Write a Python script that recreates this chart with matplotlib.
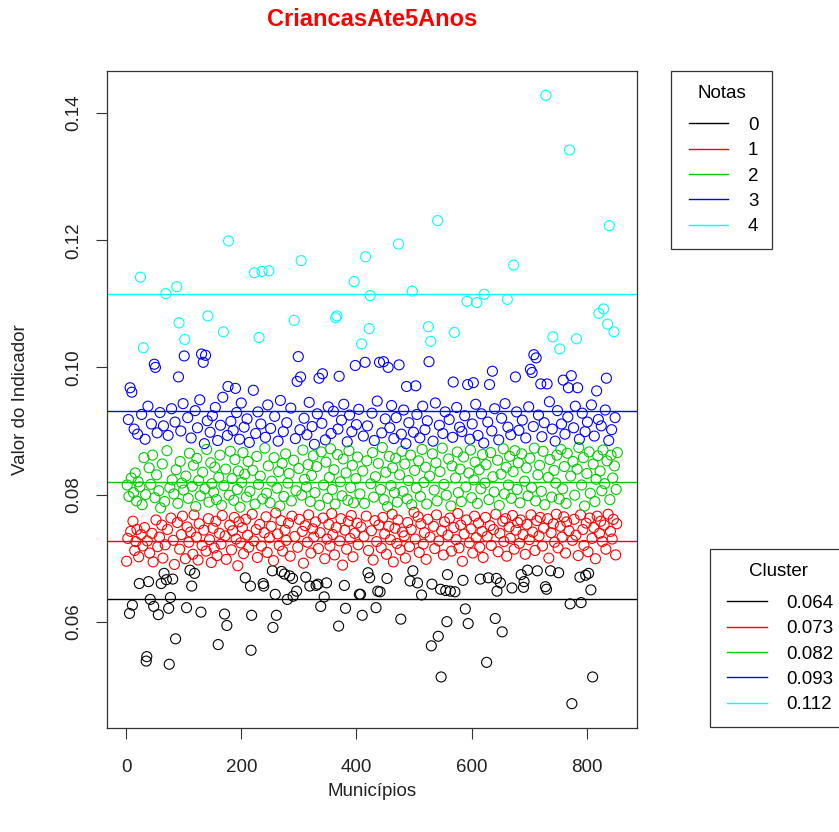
import numpy as np
import matplotlib
matplotlib.use("Agg")
import matplotlib.pyplot as plt
from matplotlib.lines import Line2D
from matplotlib.legend_handler import HandlerLine2D

plt.rcParams["font.family"] = ["Liberation Sans", "DejaVu Sans"]

# =====================================
# Dados (valor do indicador por municipio, na ordem do indice)
# =====================================

titulo = "CriancasAte5Anos"

valor = [
    0.0695, 0.0815, 0.0731, 0.0918, 0.0797, 0.0613, 0.0968, 0.0742, 0.0826, 0.0961,  # 1
    0.0626, 0.0758, 0.0803, 0.0903, 0.0712, 0.0834, 0.0726, 0.0790, 0.0745, 0.0895,  # 11
    0.0820, 0.0702, 0.0660, 0.0812, 0.1142, 0.0737, 0.0926, 0.0784, 0.0719, 0.1031,  # 21
    0.0858, 0.0748, 0.0887, 0.0800, 0.0538, 0.0545, 0.0727, 0.0939, 0.0663, 0.0842,  # 31
    0.0708, 0.0635, 0.0816, 0.0911, 0.0739, 0.0862, 0.0694, 0.0624, 0.1005, 0.0795,  # 41
    0.1000, 0.0760, 0.0831, 0.0897, 0.0718, 0.0611, 0.0806, 0.0733, 0.0929, 0.0779,  # 51
    0.0660, 0.0752, 0.0848, 0.0700, 0.0908, 0.0676, 0.0789, 0.0721, 0.1116, 0.0666,  # 61
    0.0869, 0.0745, 0.0893, 0.0621, 0.0533, 0.0811, 0.0638, 0.0763, 0.0935, 0.0823,  # 71
    0.0667, 0.0728, 0.0801, 0.0690, 0.0914, 0.0573, 0.0839, 0.1127, 0.0756, 0.0786,  # 81
    0.0985, 0.1070, 0.0714, 0.0852, 0.0900, 0.0737, 0.0818, 0.0766, 0.0943, 0.0807,  # 91
    0.1018, 0.1044, 0.0699, 0.0829, 0.0622, 0.0749, 0.0921, 0.0794, 0.0725, 0.0865,  # 101
    0.0681, 0.0741, 0.0889, 0.0656, 0.0813, 0.0706, 0.0846, 0.0768, 0.0676, 0.0932,  # 111
    0.0781, 0.0733, 0.0857, 0.0905, 0.0697, 0.0822, 0.0754, 0.0949, 0.0798, 0.0615,  # 121
    0.1021, 0.0720, 0.0835, 0.1008, 0.0744, 0.0880, 0.0809, 0.1019, 0.0711, 0.0871,  # 131
    0.0916, 0.1081, 0.0762, 0.0788, 0.0729, 0.0898, 0.0850, 0.0693, 0.0817, 0.0924,  # 141
    0.0747, 0.0804, 0.0716, 0.0843, 0.0937, 0.0758, 0.0792, 0.0704, 0.0885, 0.0564,  # 151
    0.0827, 0.0739, 0.0862, 0.0909, 0.0722, 0.0783, 0.0767, 0.0953, 0.1056, 0.0814,  # 161
    0.0612, 0.0735, 0.0840, 0.0698, 0.0594, 0.0893, 0.0970, 0.1199, 0.0799, 0.0752,  # 171
    0.0868, 0.0915, 0.0713, 0.0825, 0.0743, 0.0901, 0.0791, 0.0764, 0.0855, 0.0967,  # 181
    0.0730, 0.0929, 0.0808, 0.0688, 0.0837, 0.0757, 0.0887, 0.0780, 0.0724, 0.0944,  # 191
    0.0819, 0.0748, 0.0866, 0.0707, 0.0906, 0.0832, 0.0669, 0.0761, 0.0796, 0.0919,  # 201
    0.0736, 0.0852, 0.0717, 0.0882, 0.0805, 0.0656, 0.0555, 0.0610, 0.0769, 0.0838,  # 211
    0.0964, 0.0727, 0.1149, 0.0785, 0.0896, 0.0745, 0.0860, 0.0701, 0.0930, 0.0816,  # 221
    0.1047, 0.0753, 0.0829, 0.0911, 0.0719, 0.1151, 0.0793, 0.0660, 0.0656, 0.0740,  # 231
    0.0873, 0.0890, 0.0765, 0.0802, 0.0709, 0.0941, 0.0845, 0.1152, 0.0732, 0.0787,  # 241
    0.0904, 0.0750, 0.0821, 0.0680, 0.0591, 0.0696, 0.0858, 0.0923, 0.0643, 0.0771,  # 251
    0.0610, 0.0810, 0.0738, 0.0884, 0.0836, 0.0720, 0.0782, 0.0948, 0.0759, 0.0679,  # 261
    0.0849, 0.0711, 0.0899, 0.0797, 0.0675, 0.0744, 0.0864, 0.0728, 0.0913, 0.0635,  # 271
    0.0818, 0.0755, 0.0833, 0.0672, 0.0703, 0.0936, 0.0790, 0.0766, 0.0668, 0.0640,  # 281
    0.0854, 0.1074, 0.0734, 0.0888, 0.0806, 0.0648, 0.0978, 0.0717, 0.1017, 0.0841,  # 291
    0.0761, 0.0902, 0.0985, 0.1168, 0.0799, 0.0742, 0.0870, 0.0692, 0.0920, 0.0824,  # 301
    0.0751, 0.0670, 0.0812, 0.0894, 0.0725, 0.0847, 0.0768, 0.0945, 0.0656, 0.0789,  # 311
    0.0708, 0.0830, 0.0907, 0.0746, 0.0861, 0.0733, 0.0879, 0.0803, 0.0757, 0.0657,  # 321
    0.0844, 0.0927, 0.0659, 0.0715, 0.0983, 0.0783, 0.0740, 0.0624, 0.0867, 0.0912,  # 331
    0.0990, 0.0763, 0.0815, 0.0639, 0.0699, 0.0886, 0.0851, 0.0661, 0.0730, 0.0794,  # 341
    0.0938, 0.0753, 0.0827, 0.0719, 0.0872, 0.0896, 0.0770, 0.0808, 0.0737, 0.0931,  # 351
    0.0839, 0.0705, 0.0785, 0.1078, 0.0748, 0.1081, 0.0863, 0.0903, 0.0593, 0.0986,  # 361
    0.0727, 0.0820, 0.0762, 0.0917, 0.0798, 0.0689, 0.0856, 0.0942, 0.0657, 0.0744,  # 371
    0.0621, 0.0834, 0.0714, 0.0883, 0.0791, 0.0758, 0.0869, 0.0925, 0.0731, 0.0811,  # 381
    0.0767, 0.0899, 0.0846, 0.0702, 0.0787, 0.1135, 0.0739, 0.1003, 0.0825, 0.0910,  # 391
    0.0755, 0.0859, 0.0721, 0.0934, 0.0643, 0.0801, 0.0643, 0.0749, 0.1037, 0.0610,  # 401
    0.0837, 0.0892, 0.0734, 0.0786, 0.1008, 0.1174, 0.0766, 0.0853, 0.0908, 0.0677,  # 411
    0.0712, 0.1061, 0.0669, 0.1113, 0.0817, 0.0743, 0.0928, 0.0866, 0.0697, 0.0796,  # 421
    0.0885, 0.0759, 0.0828, 0.0622, 0.0726, 0.0947, 0.0648, 0.0849, 0.0752, 0.1008,  # 431
    0.0647, 0.0808, 0.0716, 0.0897, 0.0874, 0.0764, 0.1009, 0.0792, 0.0738, 0.0919,  # 441
    0.0835, 0.0706, 0.0668, 0.0781, 0.1000, 0.0750, 0.0860, 0.0905, 0.0729, 0.0814,  # 451
    0.0940, 0.0769, 0.0842, 0.0694, 0.0888, 0.0803, 0.0747, 0.0857, 0.0921, 0.0723,  # 461
    0.0788, 0.0760, 0.1194, 0.1004, 0.0831, 0.0713, 0.0604, 0.0895, 0.0868, 0.0741,  # 471
    0.0805, 0.0933, 0.0735, 0.0848, 0.0700, 0.0880, 0.0970, 0.0793, 0.0756, 0.0822,  # 481
    0.0913, 0.0718, 0.0664, 0.0862, 0.0745, 0.0784, 0.1120, 0.0680, 0.0898, 0.0772,  # 491
    0.0838, 0.0730, 0.0971, 0.0810, 0.0926, 0.0661, 0.0765, 0.0853, 0.0709, 0.0889,  # 501
    0.0797, 0.0754, 0.0642, 0.0871, 0.0939, 0.0722, 0.0819, 0.0740, 0.0902, 0.0843,  # 511
    0.0698, 0.0785, 0.0916, 0.0761, 0.1064, 0.1009, 0.0829, 0.0733, 0.1041, 0.0562,  # 521
    0.0659, 0.0864, 0.0884, 0.0750, 0.0807, 0.0715, 0.0944, 0.0850, 0.0768, 0.0790,  # 531
    0.1231, 0.0577, 0.0727, 0.0909, 0.0836, 0.0651, 0.0513, 0.0743, 0.0873, 0.0896,  # 541
    0.0705, 0.0816, 0.0757, 0.0930, 0.0649, 0.0799, 0.0600, 0.0674, 0.0736, 0.0856,  # 551
    0.0918, 0.0763, 0.0648, 0.0782, 0.0711, 0.0845, 0.0890, 0.0977, 0.0748, 0.1055,  # 561
    0.0647, 0.0826, 0.0729, 0.0937, 0.0867, 0.0770, 0.0803, 0.0716, 0.0906, 0.0840,  # 571
    0.0752, 0.0789, 0.0899, 0.0695, 0.0665, 0.0859, 0.0738, 0.0924, 0.0620, 0.0812,  # 581
    0.0760, 0.1104, 0.0973, 0.0597, 0.0834, 0.0724, 0.0887, 0.0870, 0.0746, 0.0795,  # 591
    0.0911, 0.0708, 0.0976, 0.0823, 0.0766, 0.0851, 0.0942, 0.0732, 0.1102, 0.0786,  # 601
    0.0893, 0.0755, 0.0839, 0.0717, 0.0667, 0.0809, 0.0927, 0.0742, 0.0863, 0.0701,  # 611
    0.0881, 0.1115, 0.0818, 0.0764, 0.0847, 0.0536, 0.0734, 0.0914, 0.0669, 0.0792,  # 621
    0.0973, 0.0751, 0.0866, 0.0720, 0.0900, 0.0994, 0.0828, 0.0745, 0.0804, 0.0935,  # 631
    0.0605, 0.0769, 0.0668, 0.0648, 0.0854, 0.0710, 0.0886, 0.0783, 0.0739, 0.0661,  # 641
    0.0832, 0.0920, 0.0584, 0.0758, 0.0872, 0.0726, 0.0801, 0.0943, 0.0762, 0.0843,  # 651
    0.0703, 0.1107, 0.0906, 0.0815, 0.0749, 0.0860, 0.0731, 0.0894, 0.0794, 0.0653,  # 661
    0.0767, 0.0836, 0.1161, 0.0714, 0.0869, 0.0985, 0.0744, 0.0930, 0.0808, 0.0756,  # 671
    0.0850, 0.0901, 0.0723, 0.0787, 0.0760, 0.0674, 0.0864, 0.0917, 0.0737, 0.0654,  # 681
    0.0663, 0.0821, 0.0706, 0.0889, 0.0842, 0.0753, 0.0681, 0.0798, 0.0938, 0.0729,  # 691
    0.0857, 0.0997, 0.0768, 0.0811, 0.0992, 0.0741, 0.0907, 0.1020, 0.0873, 0.0712,  # 701
    0.0790, 0.1015, 0.0759, 0.0680, 0.0831, 0.0925, 0.0735, 0.0846, 0.0764, 0.0974,  # 711
    0.0805, 0.0891, 0.0719, 0.0868, 0.0747, 0.0913, 0.0784, 0.0655, 0.1428, 0.0651,  # 721
    0.0974, 0.0762, 0.0827, 0.0700, 0.0946, 0.0855, 0.0680, 0.0740, 0.0796, 0.0903,  # 731
    0.1048, 0.0754, 0.0838, 0.0725, 0.0884, 0.0818, 0.0769, 0.0862, 0.0932, 0.0716,  # 741
    0.0677, 0.0793, 0.1029, 0.0750, 0.0871, 0.0911, 0.0733, 0.0809, 0.0980, 0.0765,  # 751
    0.0844, 0.0895, 0.0708, 0.0786, 0.0757, 0.0865, 0.0922, 0.0968, 0.0743, 0.1342,  # 761
    0.0628, 0.0829, 0.0987, 0.0471, 0.0728, 0.0852, 0.0905, 0.0761, 0.0799, 0.0939,  # 771
    0.0736, 0.1045, 0.0840, 0.0968, 0.0704, 0.0874, 0.0887, 0.0670, 0.0768, 0.0630,  # 781
    0.0815, 0.0928, 0.0745, 0.0858, 0.0720, 0.0782, 0.0899, 0.0673, 0.0755, 0.0833,  # 791
    0.0914, 0.0710, 0.0676, 0.0867, 0.0763, 0.0802, 0.0650, 0.0941, 0.0731, 0.0513,  # 801
    0.0848, 0.0748, 0.0892, 0.0789, 0.0699, 0.0824, 0.0963, 0.0766, 0.0861, 0.0918,  # 811
    0.1085, 0.0739, 0.0837, 0.0758, 0.0908, 0.0806, 0.0726, 0.0870, 0.1092, 0.0752,  # 821
    0.0817, 0.0933, 0.0714, 0.0983, 0.0853, 0.1068, 0.0769, 0.0885, 0.1223, 0.0792,  # 831
    0.0742, 0.0862, 0.0902, 0.0730, 0.0826, 0.0761, 0.1056, 0.0845, 0.0921, 0.0705,  # 841
    0.0808, 0.0754, 0.0866,                                                          # 851
]

# centros dos clusters (linhas horizontais) e notas
centros = [0.0636, 0.0727, 0.0820, 0.0932, 0.1116]
notas = ["0", "1", "2", "3", "4"]
cores = ["black", "#FF0000", "#00CD00", "#0000FF", "#00FFFF"]

valor = np.array(valor)
municipios = np.arange(1, len(valor) + 1)

# cada municipio recebe o cluster de centro mais proximo
cluster = np.argmin(np.abs(valor[:, None] - np.array(centros)[None, :]), axis=1)
cor_ponto = [cores[c] for c in cluster]

# =====================================
# Grafico
# =====================================

fig = plt.figure(figsize=(8.39, 8.32), dpi=100)
ax = fig.add_axes([107 / 839, 1 - 728 / 832, 530 / 839, 657 / 832])

ax.scatter(municipios, valor, s=52, facecolors="none", edgecolors=cor_ponto,
           linewidths=0.8)

for c, cor in zip(centros, cores):
    ax.axhline(c, color=cor, linewidth=1.0)

ax.margins(x=0.04, y=0.04)

ax.set_xticks([0, 200, 400, 600, 800])
ax.set_yticks([0.06, 0.08, 0.10, 0.12, 0.14])
ax.set_yticklabels(["0.06", "0.08", "0.10", "0.12", "0.14"], rotation=90, va="center")

for sp in ax.spines.values():
    sp.set_color("#333333")
    sp.set_linewidth(0.9)

ax.tick_params(axis="both", direction="out", length=8, width=0.8, color="#333333",
               labelsize=13.5, labelcolor="#222222")
ax.tick_params(axis="x", pad=14)
ax.tick_params(axis="y", pad=10)

ax.set_title(titulo, color="#FF0000", fontsize=17, fontweight="bold", y=1.078,
             va="center", pad=0)
ax.set_xlabel("Municípios", fontsize=13.5, color="#222222", va="center")
ax.xaxis.set_label_coords(0.5, -0.097)
ax.set_ylabel("Valor do Indicador", fontsize=13.5, color="#222222", va="center")
ax.yaxis.set_label_coords(-0.164, 0.5)

# legendas
fonte_leg = 13.5
handles = [Line2D([], [], color=cor, linewidth=1.0) for cor in cores]


def legenda(rotulos, titulo_leg, x0, y0, hl, pad_linha):
    leg = ax.legend(handles, rotulos, title=titulo_leg, loc="upper left",
                    bbox_to_anchor=(x0 / 839, 1 - y0 / 832), bbox_transform=fig.transFigure,
                    borderaxespad=0, fancybox=False, framealpha=1, edgecolor="#333333",
                    fontsize=fonte_leg, title_fontsize=fonte_leg,
                    borderpad=0.75, labelspacing=0.44, handlelength=hl, handletextpad=0.85,
                    handler_map={Line2D: HandlerLine2D(numpoints=2, marker_pad=pad_linha)})
    leg.get_frame().set_linewidth(0.9)
    # espaco maior entre o titulo e a primeira linha, como no R
    leg._legend_box.sep = 10.5
    return leg


leg1 = legenda(notas, "Notas", 671, 71, 2.5, 0.21)
ax.add_artist(leg1)

rotulos_cluster = [f"{c:.3f}" for c in centros]
leg2 = legenda(rotulos_cluster, "Cluster", 710, 549, 2.45, 0.16)

fig.savefig("out.png", dpi=100)
